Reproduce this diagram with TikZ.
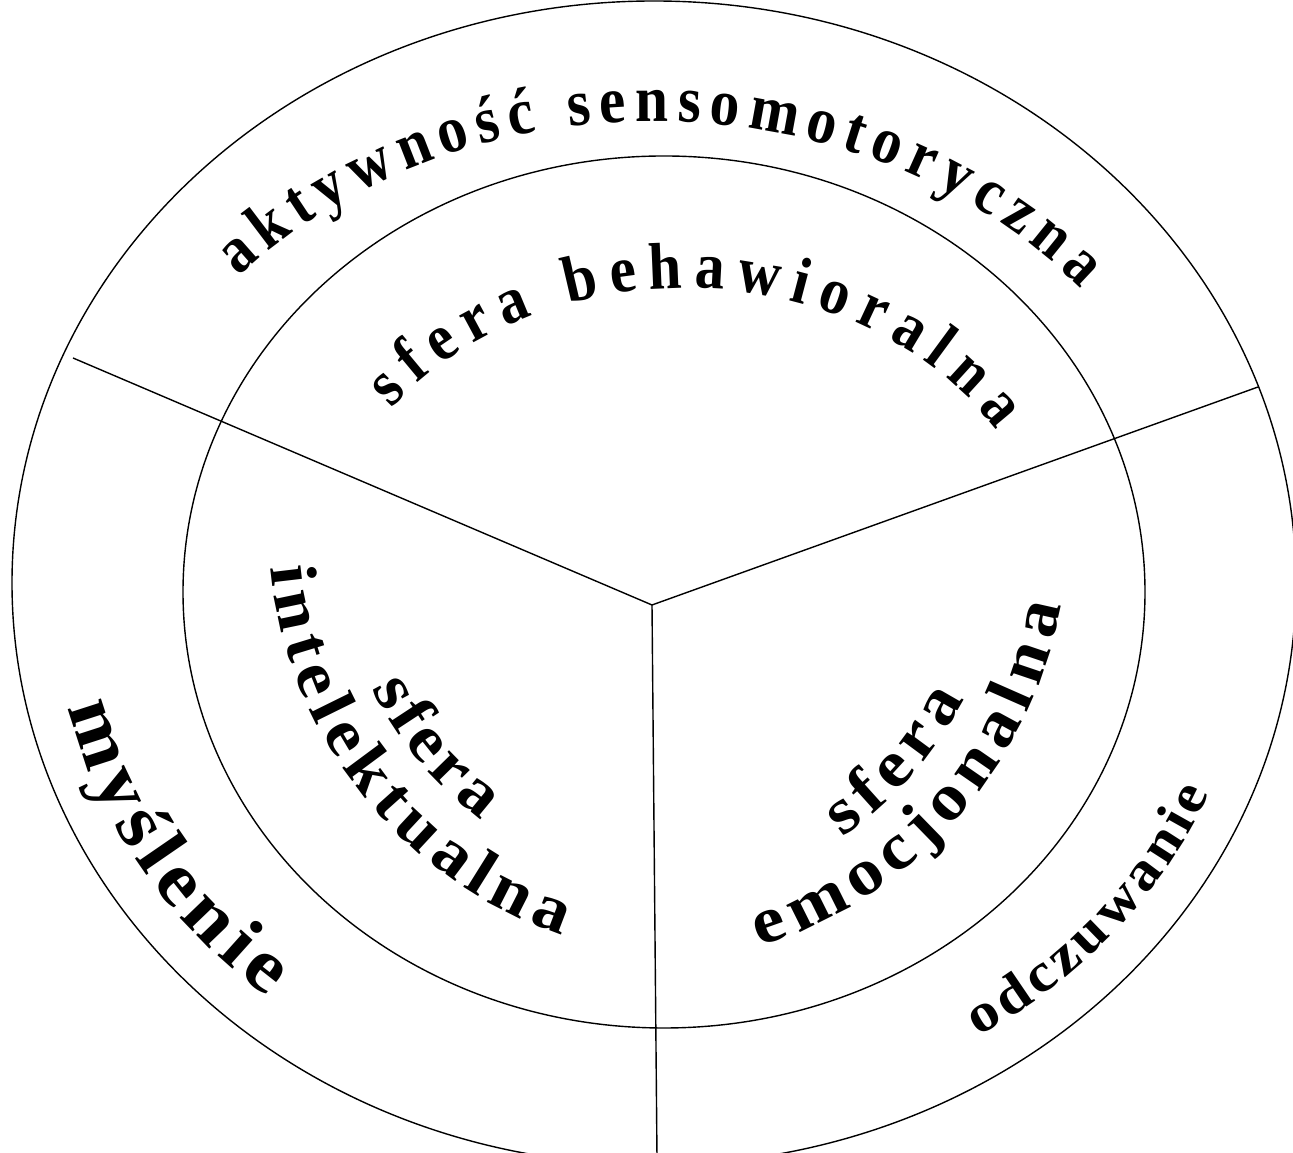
\documentclass[tikz,border=0pt]{standalone}
\usepackage{fontspec}
\setmainfont{Liberation Serif}
\newfontfamily\topfont[FakeStretch=0.9]{Liberation Serif}
\newfontfamily\widefont[FakeStretch=1.1]{Liberation Serif}
\usetikzlibrary{decorations.text}
\newcommand\TopFmt{\topfont\bfseries\fontsize{66pt}{66pt}\selectfont}
\newcommand\InFmt{\widefont\bfseries\fontsize{66pt}{66pt}\selectfont}
\newcommand\BigFmt{\widefont\bfseries\fontsize{76pt}{76pt}\selectfont}
\newcommand\SmFmt{\widefont\bfseries\fontsize{55pt}{55pt}\selectfont}
\tikzset{
  ring/.style={line width=1.4pt},
  divider/.style={line width=1.4pt},
  arctext/.style={decorate, decoration={text along path, text={#1}, text align={fit to path}}}
}
\begin{document}
\begin{tikzpicture}[x=1pt,y=1pt]
\useasboundingbox (0,0) rectangle (1293,1153);
\clip (0,0) rectangle (1293,1153);
\coordinate (oc) at (654,570);
\coordinate (ic) at (664,561);
\coordinate (hub) at (652,548);
\coordinate (ul) at (73,795);
\coordinate (ur) at (1258,766);
\coordinate (bt) at (657,-5);
\coordinate (tc) at (654,553);
\coordinate (bc) at (685,561);
\coordinate (lc) at (699,626);
\coordinate (rc) at (629,626);
\draw[ring] (oc) ellipse [x radius=642pt, y radius=582pt];
\draw[ring] (ic) ellipse [x radius=481pt, y radius=436pt];
\draw[divider] (hub) -- (ul);
\draw[divider] (hub) -- (ur);
\draw[divider] (hub) -- (bt);
\path[arctext={|\TopFmt|aktywność sensomotoryczna}] (tc) ++(137.6:562pt and 479pt) arc[start angle=137.6, end angle=40.5, x radius=562pt, y radius=479pt];
\path[arctext={|\TopFmt|sfera behawioralna}] (bc) ++(142.8:368pt and 304pt) arc[start angle=142.8, end angle=32.2, x radius=368pt, y radius=304pt];
\path[arctext={|\BigFmt|myślenie}] (tc) ++(191.9:598pt and 520pt) arc[start angle=191.9, end angle=229.8, x radius=598pt, y radius=520pt];
\path[arctext={|\SmFmt|odczuwanie}] (tc) ++(302.9:598pt and 520pt) arc[start angle=302.9, end angle=338.2, x radius=598pt, y radius=520pt];
\path[arctext={|\InFmt|sfera}] (lc) ++(206.2:365pt) arc[start angle=206.2, end angle=233.4, radius=365pt];
\path[arctext={|\InFmt|intelektualna}] (lc) ++(185.4:430pt) arc[start angle=185.4, end angle=251.5, radius=430pt];
\path[arctext={|\InFmt|sfera}] (rc) ++(304.5:377pt) arc[start angle=304.5, end angle=332.8, radius=377pt];
\path[arctext={|\InFmt|emocjonalna}] (rc) ++(287.3:439pt) arc[start angle=287.3, end angle=349.7, radius=439pt];
\end{tikzpicture}
\end{document}
